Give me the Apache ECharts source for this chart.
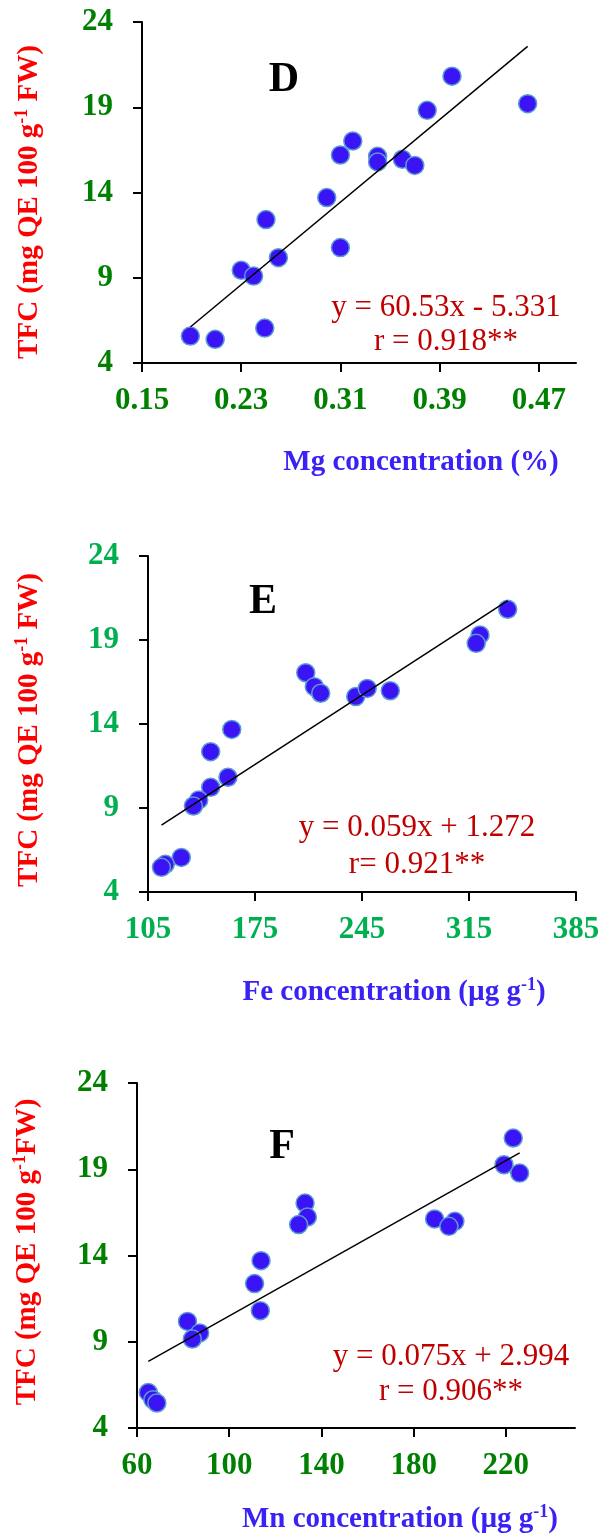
<!DOCTYPE html>
<html>
<head>
<meta charset="utf-8">
<script src="https://cdn.jsdelivr.net/npm/echarts@6/dist/echarts.min.js"></script>
<style>
  html, body { margin: 0; padding: 0; background: #ffffff; }
  #chart { width: 603px; height: 1536px; }
</style>
</head>
<body>
<div id="chart"></div>
<script>
// Mg concentration (%) vs TFC
const mgConc = [0.400, 0.461, 0.380, 0.320, 0.310, 0.340, 0.340, 0.360, 0.370, 0.299, 0.250, 0.310, 0.260, 0.230, 0.240, 0.249, 0.189, 0.209];
const tfcD   = [20.82, 19.21, 18.82, 17.02, 16.20, 16.12, 15.79, 15.95, 15.59, 13.70, 12.41, 10.77, 10.18, 9.44, 9.10, 6.05, 5.58, 5.39];

// Fe concentration (µg g-1) vs TFC
const feConc = [340.3, 322.2, 319.7, 208.2, 213.8, 218.0, 240.9, 248.4, 263.5, 159.8, 146.0, 157.3, 146.0, 138.2, 134.7, 126.8, 116.3, 113.8];
const tfcE   = [20.83, 19.30, 18.80, 17.05, 16.22, 15.83, 15.63, 16.12, 15.98, 13.68, 12.35, 10.83, 10.23, 9.48, 9.12, 6.06, 5.65, 5.47];

// Mn concentration (µg g-1) vs TFC
const mnConc = [223.2, 219.2, 226.0, 132.9, 133.9, 130.1, 189.1, 197.9, 195.3, 113.8, 111.0, 113.5, 81.9, 87.2, 84.0, 64.9, 66.9, 68.6];
const tfcF   = [20.81, 19.26, 18.78, 17.04, 16.23, 15.79, 16.12, 15.98, 15.69, 13.70, 12.37, 10.80, 10.18, 9.51, 9.16, 6.06, 5.64, 5.45];

// Axis tick values
const tfcTicks = [4, 9, 14, 19, 24];
const mgTicks  = [0.15, 0.23, 0.31, 0.39, 0.47];
const feTicks  = [105, 175, 245, 315, 385];
const mnTicks  = [60, 100, 140, 180, 220];

// Linear fits [slope, intercept] and their printed equations
const fitD = [60.53, -5.331];
const fitE = [0.059, 1.272];
const fitF = [0.075, 2.994];
const eqD = ['y = 60.53x - 5.331', 'r = 0.918**'];
const eqE = ['y = 0.059x + 1.272', 'r= 0.921**'];
const eqF = ['y = 0.075x + 2.994', 'r = 0.906**'];

const panelLetters = ['D', 'E', 'F'];
const xNames = [
  '{n|Mg concentration (%)}',
  '{n|Fe concentration (\u00b5g g}{s|-1}{n|)}',
  '{n|Mn concentration (\u00b5g g}{s|-1}{n|)}'
];
const yNames = [
  '{n|TFC (mg QE 100 g}{s|-1}{n| FW)}',
  '{n|TFC (mg QE 100 g}{s|-1}{n| FW)}',
  '{n|TFC (mg QE 100 g}{s|-1}{n|FW)}'
];

const SERIF = '"Liberation Serif", "Times New Roman", serif';

const panels = [
  { x: mgConc, y: tfcD, ticks: mgTicks, fit: fitD, eq: eqD, xMin: 0.15, xMax: 0.50, tickColor: '#008000',
    grid: { left: 142, top: 22, width: 434, height: 341 },
    letterPos: [284, 80], eqPos: [446, 308, 342], xNamePos: [421, 463], yNamePos: [30, 202] },
  { x: feConc, y: tfcE, ticks: feTicks, fit: fitE, eq: eqE, xMin: 105, xMax: 385, tickColor: '#00b050',
    grid: { left: 148, top: 556, width: 428, height: 336 },
    letterPos: [263, 602], eqPos: [417, 828, 865], xNamePos: [394, 993], yNamePos: [30, 730] },
  { x: mnConc, y: tfcF, ticks: mnTicks, fit: fitF, eq: eqF, xMin: 60, xMax: 250, tickColor: '#008000',
    grid: { left: 137, top: 1083, width: 438, height: 345 },
    letterPos: [282, 1147], eqPos: [451, 1357, 1392], xNamePos: [400, 1520], yNamePos: [28, 1252] }
];

const grids = [], xAxes = [], yAxes = [], series = [], graphics = [];

// bold serif name with a raised "-1"
const richName = (size, color) => ({
  n: { fontFamily: SERIF, fontWeight: 'bold', fontSize: size, fill: color, color: color, lineHeight: size + 4 },
  s: { fontFamily: SERIF, fontWeight: 'bold', fontSize: Math.round(size * 0.62), fill: color, color: color,
       lineHeight: Math.round(size * 0.62), verticalAlign: 'top' }
});

panels.forEach((p, i) => {
  grids.push(Object.assign({ outerBoundsMode: 'none', containLabel: false }, p.grid));

  const axisLine = { show: true, onZero: false, lineStyle: { color: '#000', width: 2 } };
  const axisTick = { show: true, inside: false, length: 9, lineStyle: { color: '#000', width: 2 } };
  const axisLabel = { color: p.tickColor, fontFamily: SERIF, fontWeight: 'bold', fontSize: 31 };

  xAxes.push({
    type: 'value', gridIndex: i, min: p.xMin, max: p.xMax,
    axisLine: axisLine, splitLine: { show: false },
    axisTick: Object.assign({}, axisTick, { customValues: p.ticks }),
    axisLabel: Object.assign({}, axisLabel, { customValues: p.ticks, margin: 22 })
  });
  yAxes.push({
    type: 'value', gridIndex: i, min: 4, max: 24,
    axisLine: axisLine, splitLine: { show: false },
    axisTick: Object.assign({}, axisTick, { customValues: tfcTicks }),
    axisLabel: Object.assign({}, axisLabel, { customValues: tfcTicks, margin: 29 })
  });

  series.push({
    type: 'scatter', xAxisIndex: i, yAxisIndex: i, z: 2,
    symbol: 'circle', symbolSize: 18,
    itemStyle: { color: '#3b14f5', borderColor: '#5b9bd5', borderWidth: 1.5, opacity: 1 },
    data: p.x.map((v, k) => [v, p.y[k]])
  });

  // fitted line across the observed concentration range
  const x0 = Math.min.apply(null, p.x), x1 = Math.max.apply(null, p.x);
  series.push({
    type: 'line', xAxisIndex: i, yAxisIndex: i, z: 3,
    showSymbol: false, symbol: 'none', silent: true,
    lineStyle: { color: '#000', width: 1.5 },
    data: [[x0, p.fit[0] * x0 + p.fit[1]], [x1, p.fit[0] * x1 + p.fit[1]]]
  });

  graphics.push({
    type: 'text', x: p.letterPos[0], y: p.letterPos[1], z: 10,
    style: { text: panelLetters[i], fill: '#000', fontFamily: SERIF, fontWeight: 'bold', fontSize: 42,
             align: 'center', verticalAlign: 'middle' }
  });
  p.eq.forEach((line, k) => {
    graphics.push({
      type: 'text', x: p.eqPos[0], y: p.eqPos[k + 1], z: 10,
      style: { text: line, fill: '#c00000', fontFamily: SERIF, fontSize: 31,
               align: 'center', verticalAlign: 'middle' }
    });
  });
  graphics.push({
    type: 'text', x: p.xNamePos[0], y: p.xNamePos[1], z: 10,
    style: { text: xNames[i], fill: '#3a22f5', rich: richName(29, '#3a22f5'),
             align: 'center', verticalAlign: 'middle' }
  });
  graphics.push({
    type: 'text', x: p.yNamePos[0], y: p.yNamePos[1], z: 10, rotation: Math.PI / 2,
    style: { text: yNames[i], fill: '#ff0000', rich: richName(29, '#ff0000'),
             align: 'center', verticalAlign: 'middle' }
  });
});

const chart = echarts.init(document.getElementById('chart'), null, { renderer: 'canvas' });
chart.setOption({
  animation: false,
  backgroundColor: '#ffffff',
  grid: grids,
  xAxis: xAxes,
  yAxis: yAxes,
  series: series,
  graphic: graphics
});
</script>
</body>
</html>
